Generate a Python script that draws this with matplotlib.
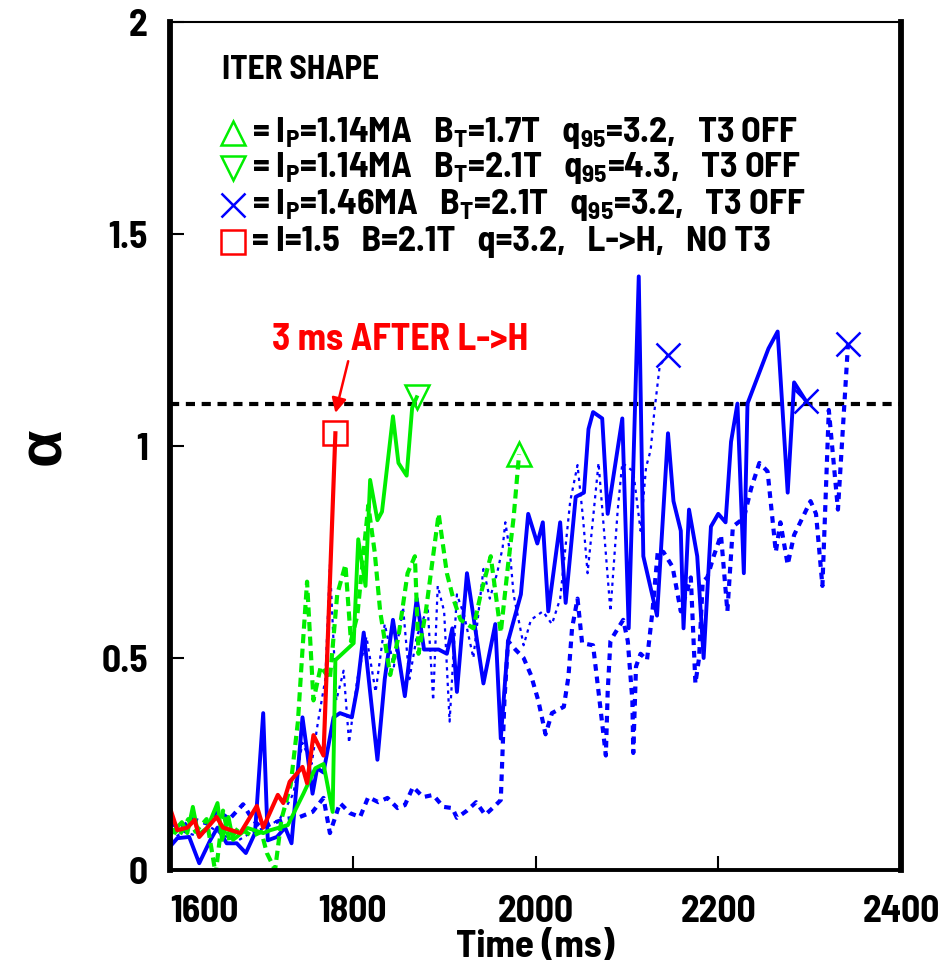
import matplotlib
matplotlib.use('Agg')
import matplotlib.pyplot as plt

# fonts - narrow bold like the original plot (falls back to Liberation Sans)
plt.rcParams['font.family'] = ['Barlow Semi Condensed', 'Liberation Sans', 'DejaVu Sans']
plt.rcParams['font.weight'] = 'bold'
plt.rcParams['mathtext.fontset'] = 'custom'
plt.rcParams['mathtext.rm'] = 'Barlow Semi Condensed:bold'
plt.rcParams['mathtext.default'] = 'rm'

# ---- data (time in ms, alpha) ----
# red, 1.5MA L->H no T3
t_red = [1600, 1608, 1619, 1627, 1632, 1651, 1658, 1677, 1695, 1702, 1718, 1724,
         1731, 1745, 1750, 1757, 1768, 1781]
a_red = [0.146, 0.094, 0.10, 0.118, 0.078, 0.125, 0.10, 0.087, 0.151, 0.10, 0.177, 0.158,
         0.208, 0.243, 0.205, 0.318, 0.27, 1.03]

# green solid, 1.14MA 2.1T
t_g2 = [1602, 1613, 1619, 1625, 1631, 1641, 1652, 1657, 1664, 1669, 1685, 1702, 1710,
        1729, 1746, 1759, 1768, 1778, 1781, 1801, 1806, 1814, 1819, 1827, 1832, 1844,
        1850, 1859, 1865, 1870]
a_g2 = [0.087, 0.113, 0.087, 0.149, 0.083, 0.10, 0.158, 0.071, 0.125, 0.071, 0.099, 0.087,
        0.094, 0.106, 0.18, 0.24, 0.25, 0.137, 0.495, 0.535, 0.78, 0.67, 0.92, 0.825, 0.845,
        1.07, 0.96, 0.93, 1.09, 1.115]

# green dashed, 1.14MA 1.7T
t_g1 = [1600, 1610, 1620, 1628, 1640, 1650, 1658, 1665, 1675, 1690, 1700, 1706, 1715,
        1722, 1732, 1740, 1745, 1750, 1757, 1765, 1775, 1783, 1792, 1798, 1805, 1817,
        1824, 1830, 1841, 1850, 1860, 1868, 1872, 1880, 1894, 1903, 1910, 1918, 1932,
        1940, 1951, 1962, 1970, 1976, 1982]
a_g1 = [0.10, 0.08, 0.12, 0.09, 0.12, -0.01, 0.14, 0.07, 0.10, 0.08, 0.09, 0.04, 0.0,
        0.12, 0.20, 0.35, 0.52, 0.68, 0.40, 0.48, 0.45, 0.65, 0.72, 0.54, 0.60, 0.86,
        0.75, 0.61, 0.46, 0.55, 0.70, 0.74, 0.51, 0.61, 0.84, 0.70, 0.64, 0.59, 0.57,
        0.65, 0.74, 0.56, 0.72, 0.83, 0.98]

# blue solid, 1.46MA
t_bs = [1600, 1608, 1621, 1632, 1644, 1652, 1662, 1673, 1683, 1693, 1702, 1707, 1717,
        1726, 1733, 1745, 1750, 1756, 1761, 1768, 1779, 1786, 1799, 1805, 1812, 1820,
        1827, 1835, 1844, 1857, 1870, 1878, 1894, 1903, 1909, 1914, 1925, 1943, 1956,
        1962, 1970, 1984, 1992, 2002, 2008, 2014, 2027, 2033, 2044, 2053, 2058, 2063,
        2073, 2079, 2095, 2102, 2113, 2118, 2133, 2145, 2151, 2159, 2162, 2168, 2177,
        2184, 2192, 2200, 2208, 2214, 2221, 2228, 2232, 2255, 2265, 2276, 2283, 2296]
a_bs = [0.055, 0.075, 0.078, 0.016, 0.07, 0.10, 0.063, 0.063, 0.04, 0.087, 0.37, 0.07, 0.078,
        0.10, 0.063, 0.36, 0.28, 0.18, 0.24, 0.23, 0.36, 0.37, 0.36, 0.43, 0.56, 0.40,
        0.26, 0.45, 0.59, 0.41, 0.64, 0.52, 0.52, 0.51, 0.57, 0.42, 0.70, 0.44, 0.58,
        0.31, 0.54, 0.65, 0.84, 0.77, 0.82, 0.61, 0.82, 0.63, 0.88, 0.89, 1.04, 1.08,
        1.065, 0.84, 1.065, 0.57, 1.40, 0.74, 0.60, 1.03, 0.87, 0.80, 0.57, 0.85, 0.74,
        0.50, 0.81, 0.84, 0.82, 1.01, 1.10, 0.70, 1.10, 1.23, 1.27, 0.89, 1.15, 1.106]

# blue thin dotted
t_bd = [1600, 1615, 1630, 1645, 1660, 1675, 1690, 1705, 1720, 1735, 1745, 1755, 1762,
        1770, 1775, 1782, 1790, 1796, 1805, 1815, 1825, 1835, 1845, 1855, 1862, 1870,
        1882, 1888, 1893, 1900, 1906, 1914, 1922, 1932, 1943, 1950, 1958, 1964, 1967,
        1972, 1976, 1987, 1995, 2008, 2018, 2027, 2038, 2046, 2052, 2057, 2063, 2069,
        2075, 2082, 2090, 2095, 2107, 2115, 2121, 2126, 2130, 2136, 2145]
a_bd = [0.07, 0.09, 0.08, 0.10, 0.08, 0.07, 0.09, 0.10, 0.12, 0.18, 0.30, 0.25, 0.35,
        0.45, 0.72, 0.40, 0.47, 0.30, 0.45, 0.55, 0.42, 0.58, 0.48, 0.62, 0.45, 0.55,
        0.62, 0.40, 0.67, 0.61, 0.35, 0.65, 0.60, 0.50, 0.71, 0.64, 0.70, 0.76, 0.82,
        0.75, 0.65, 0.53, 0.59, 0.61, 0.58, 0.64, 0.87, 0.955, 0.83, 0.70, 0.83, 0.96,
        0.80, 0.61, 0.85, 0.96, 0.94, 0.80, 0.95, 0.99, 1.08, 1.19, 1.215]

# blue thick dashed
t_bt = [1600, 1612, 1625, 1640, 1652, 1665, 1680, 1690, 1700, 1712, 1725, 1742, 1756,
        1768, 1775, 1786, 1797, 1808, 1817, 1828, 1838, 1849, 1857, 1866, 1877, 1888,
        1899, 1909, 1914, 1925, 1935, 1945, 1955, 1962, 1966, 1970, 1978, 1987, 1995,
        2003, 2011, 2018, 2031, 2036, 2040, 2046, 2051, 2063, 2069, 2077, 2079, 2082,
        2086, 2096, 2101, 2106, 2107, 2110, 2115, 2122, 2128, 2134, 2140, 2150, 2159,
        2170, 2175, 2179, 2183, 2188, 2195, 2203, 2210, 2216, 2228, 2236, 2245, 2254,
        2263, 2268, 2276, 2283, 2301, 2307, 2314, 2321, 2331, 2342]
a_bt = [0.11, 0.10, 0.12, 0.11, 0.14, 0.12, 0.155, 0.12, 0.10, 0.11, 0.12, 0.125, 0.137,
        0.17, 0.087, 0.158, 0.134, 0.125, 0.172, 0.16, 0.17, 0.146, 0.153, 0.196, 0.172,
        0.177, 0.149, 0.146, 0.123, 0.14, 0.16, 0.13, 0.15, 0.165, 0.40, 0.54, 0.52,
        0.50, 0.46, 0.40, 0.32, 0.37, 0.385, 0.455, 0.57, 0.64, 0.535, 0.53, 0.42, 0.27,
        0.42, 0.54, 0.555, 0.59, 0.54, 0.40, 0.276, 0.48, 0.51, 0.495, 0.61, 0.755, 0.75,
        0.715, 0.61, 0.69, 0.44, 0.50, 0.68, 0.69, 0.74, 0.79, 0.61, 0.81, 0.83, 0.90,
        0.96, 0.94, 0.75, 0.82, 0.72, 0.79, 0.87, 0.84, 0.67, 1.085, 0.85, 1.24]

alpha_limit = 1.1
xticks = [1600, 1800, 2000, 2200, 2400]
yticks = [0, 0.5, 1, 1.5, 2]
ytick_labels = ['0', '0.5', '1', '1.5', '2']

legend_rows = [
    r'= I$_P$=1.14MA   B$_T$=1.7T   q$_{95}$=3.2,   T3 OFF',
    r'= I$_P$=1.14MA   B$_T$=2.1T   q$_{95}$=4.3,   T3 OFF',
    r'= I$_P$=1.46MA   B$_T$=2.1T   q$_{95}$=3.2,   T3 OFF',
    '= I=1.5   B=2.1T   q=3.2,   L->H,   NO T3',
]

BLUE = '#0000ff'
GREEN = '#00ee00'
RED = '#ff0000'

fig = plt.figure(figsize=(9.49, 9.66), dpi=100)
ax = fig.add_axes([170 / 949, 96 / 966, 731 / 949, 848 / 966])

ax.axhline(alpha_limit, color='k', lw=3, ls=(0, (2.2, 1.6)), zorder=1)

ax.plot(t_bt, a_bt, color=BLUE, lw=3, ls=(0, (1.6, 1.4)))
ax.plot(t_bd, a_bd, color=BLUE, lw=1.6, ls=(0, (1.5, 2.0)))
ax.plot(t_bs, a_bs, color=BLUE, lw=2.8)
ax.plot(t_g1, a_g1, color=GREEN, lw=3, ls=(0, (2.2, 1.3)))
ax.plot(t_g2, a_g2, color=GREEN, lw=2.8)
ax.plot(t_red, a_red, color=RED, lw=3)

mk = dict(mfc='none', mew=1.8, ms=17, ls='none')
ax.plot(t_g1[-1], a_g1[-1], marker='^', mec=GREEN, **mk)
ax.plot(t_g2[-1], a_g2[-1], marker='v', mec=GREEN, **mk)
ax.plot(t_bs[-1], a_bs[-1], marker='x', mec=BLUE, **mk)
ax.plot(t_bd[-1], a_bd[-1], marker='x', mec=BLUE, **mk)
ax.plot(t_bt[-1], a_bt[-1], marker='x', mec=BLUE, **mk)
ax.plot(t_red[-1], a_red[-1], marker='s', mec=RED, **mk)

# legend block drawn by hand
ax.text(0.071, 0.943, 'ITER SHAPE', transform=ax.transAxes, fontsize=24, va='center')
row_y = [0.869, 0.828, 0.784, 0.741]
row_mk = [('^', GREEN), ('v', GREEN), ('x', BLUE), ('s', RED)]
for y, (m, c), s in zip(row_y, row_mk, legend_rows):
    ax.plot(0.086, y, marker=m, mec=c, transform=ax.transAxes, clip_on=False, **mk)
    ax.text(0.112, y, s, transform=ax.transAxes, fontsize=26, va='center')

ax.text(1712, 1.25, '3 ms AFTER L->H', color=RED, fontsize=27, va='center')
ax.annotate('', xy=(1781, 1.078), xytext=(1795, 1.2),
            arrowprops=dict(arrowstyle='-|>', color=RED, lw=1.8, mutation_scale=22,
                            shrinkA=0, shrinkB=0))

ax.set_xlim(1600, 2400)
ax.set_ylim(0, 2)
ax.set_xticks(xticks)
ax.set_yticks(yticks)
ax.set_yticklabels(ytick_labels)
ax.tick_params(direction='in', length=10, width=1.5, labelsize=27)
ax.tick_params(axis='x', pad=18)
ax.tick_params(axis='y', pad=16)
ax.get_xticklabels()[0].set_ha('left')

ax.spines['left'].set_linewidth(4.2)
ax.spines['right'].set_linewidth(4.2)
ax.spines['bottom'].set_linewidth(2.8)
ax.spines['top'].set_linewidth(1.5)

ax.set_xlabel('Time (ms)', fontsize=28, fontweight='bold')
ax.xaxis.set_label_coords(0.5, -0.071)
ax.set_ylabel('α', fontsize=44, fontweight='bold')
ax.yaxis.set_label_coords(-0.135, 0.5)

fig.savefig('out.png', dpi=100)
